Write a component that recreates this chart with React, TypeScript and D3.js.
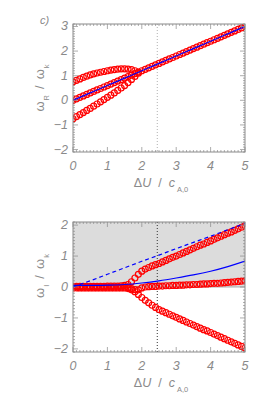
import React from 'react';
import * as d3 from 'd3';

// ΔU / c_A,0 sampling grid
const du = [0, 0.1, 0.2, 0.3, 0.4, 0.5, 0.6, 0.7, 0.8, 0.9, 1.0, 1.1, 1.2, 1.3, 1.4, 1.5, 1.6, 1.7, 1.8, 1.9,
  2.0, 2.1, 2.2, 2.3, 2.4, 2.5, 2.6, 2.7, 2.8, 2.9, 3.0, 3.1, 3.2, 3.3, 3.4, 3.5, 3.6, 3.7, 3.8, 3.9,
  4.0, 4.1, 4.2, 4.3, 4.4, 4.5, 4.6, 4.7, 4.8, 4.9, 5.0];

// top panel: real part
const wrMid = [0, 0.06, 0.12, 0.18, 0.24, 0.30, 0.36, 0.42, 0.48, 0.54, 0.60, 0.66, 0.72, 0.78, 0.84, 0.90, 0.96, 1.02, 1.08, 1.14,
  1.20, 1.26, 1.32, 1.38, 1.44, 1.50, 1.56, 1.62, 1.68, 1.74, 1.80, 1.86, 1.92, 1.98, 2.04, 2.10, 2.16, 2.22, 2.28, 2.34,
  2.40, 2.46, 2.52, 2.58, 2.64, 2.70, 2.76, 2.82, 2.88, 2.94, 3.00];
const wrUp = [0.75, 0.81, 0.87, 0.93, 0.98, 1.03, 1.07, 1.11, 1.14, 1.17, 1.20, 1.23, 1.25, 1.27, 1.28, 1.28, 1.27, 1.25, 1.20, 1.15];
const wrLow = [-0.75, -0.66, -0.58, -0.50, -0.41, -0.33, -0.24, -0.15, -0.06, 0.03, 0.12, 0.21, 0.30, 0.40, 0.50, 0.60, 0.72, 0.85, 0.97, 1.10];

// bottom panel: imaginary part
const wiUp = [0.02, 0.02, 0.02, 0.02, 0.02, 0.02, 0.02, 0.02, 0.02, 0.02, 0.03, 0.03, 0.03, 0.03, 0.04, 0.05, 0.08, 0.17, 0.29, 0.41,
  0.51, 0.58, 0.63, 0.68, 0.72, 0.76, 0.81, 0.86, 0.91, 0.96, 1.00, 1.05, 1.10, 1.15, 1.20, 1.25, 1.30, 1.35, 1.39, 1.44,
  1.49, 1.54, 1.59, 1.64, 1.69, 1.74, 1.78, 1.83, 1.88, 1.93, 1.98];
const wiMid = [0, 0, 0, 0, 0, 0, 0, 0, 0, 0, 0, 0, 0, 0, 0, 0, -0.02, -0.05, -0.08, -0.09,
  -0.03, 0, 0.01, 0.02, 0.02, 0.03, 0.03, 0.04, 0.04, 0.05, 0.05, 0.06, 0.06, 0.07, 0.07, 0.08, 0.08, 0.09, 0.10, 0.10,
  0.11, 0.12, 0.12, 0.13, 0.14, 0.15, 0.16, 0.17, 0.18, 0.19, 0.20];
const wiLow = [-0.03, -0.03, -0.03, -0.03, -0.03, -0.03, -0.03, -0.03, -0.03, -0.03, -0.03, -0.03, -0.03, -0.03, -0.03, -0.03, -0.05, -0.09, -0.15, -0.24,
  -0.34, -0.43, -0.51, -0.59, -0.66, -0.73, -0.78, -0.83, -0.88, -0.93, -0.98, -1.03, -1.08, -1.13, -1.18, -1.23, -1.28, -1.33, -1.38, -1.42,
  -1.47, -1.52, -1.57, -1.62, -1.67, -1.72, -1.77, -1.82, -1.87, -1.92, -1.97];

// blue curves (bottom)
const duCoarse = [0, 0.5, 1, 1.5, 2, 2.5, 3, 3.5, 4, 4.5, 5];
const wiBlueSolid = [0.05, 0.05, 0.06, 0.08, 0.13, 0.20, 0.29, 0.39, 0.51, 0.66, 0.84];
const wiBlueDash = [0, 0.20, 0.41, 0.62, 0.83, 1.03, 1.24, 1.44, 1.64, 1.85, 2.05];

const xTicks = [0, 1, 2, 3, 4, 5];
const yTicksTop = [-2, -1, 0, 1, 2, 3];
const yTicksBot = [-2, -1, 0, 1, 2];
const markerLine = 2.45;

const GRAY = '#8a8a8a';
const FONT = "'Liberation Sans', Arial, sans-serif";

type PanelProps = {
  id: string;
  top: number;
  bottom: number;
  yDomain: [number, number];
  yTicks: number[];
  shade?: boolean;
  dotColor: string;
  sub: string;
  titleY: number;
  children: (x: d3.ScaleLinear<number, number>, y: d3.ScaleLinear<number, number>) => React.ReactNode;
};

const Panel = ({ id, top, bottom, yDomain, yTicks, shade, dotColor, sub, titleY, children }: PanelProps) => {
  const left = 73, right = 245;
  const x = d3.scaleLinear().domain([0, 5]).range([left, right]);
  const y = d3.scaleLinear().domain(yDomain).range([bottom, top]);

  const xMinor = d3.range(0, 50.5, 1).map((i) => i / 10);
  const yMinor = d3.range(Math.ceil(yDomain[0] * 10), Math.floor(yDomain[1] * 10) + 1).map((i) => i / 10);

  return (
    <g>
      <defs>
        <clipPath id={id}>
          <rect x={left} y={top} width={right - left} height={bottom - top} />
        </clipPath>
      </defs>
      {shade && (
        <rect x={left} y={top} width={right - left} height={y(0) - top} fill="#dcdcdc" />
      )}
      {shade && <line x1={left} x2={right} y1={y(0)} y2={y(0)} stroke="#999" strokeWidth={0.8} />}

      <line x1={x(markerLine)} x2={x(markerLine)} y1={top} y2={bottom} stroke={dotColor} strokeWidth={1} strokeDasharray="1,2" />

      <g clipPath={`url(#${id})`}>{children(x, y)}</g>

      {/* frame and ticks */}
      <rect x={left} y={top} width={right - left} height={bottom - top} fill="none" stroke={GRAY} strokeWidth={1} />
      {xMinor.map((v, i) => {
        const len = i % 10 === 0 ? 5 : 2;
        return (
          <g key={'xm' + i} stroke={GRAY} strokeWidth={0.7}>
            <line x1={x(v)} x2={x(v)} y1={bottom} y2={bottom - len} />
            <line x1={x(v)} x2={x(v)} y1={top} y2={top + len} />
          </g>
        );
      })}
      {yMinor.map((v, i) => {
        const len = Math.abs(v - Math.round(v)) < 1e-6 ? 5 : 2;
        return (
          <g key={'ym' + i} stroke={GRAY} strokeWidth={0.7}>
            <line x1={left} x2={left + len} y1={y(v)} y2={y(v)} />
            <line x1={right} x2={right - len} y1={y(v)} y2={y(v)} />
          </g>
        );
      })}

      {xTicks.map((v) => (
        <text key={'xl' + v} x={x(v)} y={bottom + 18} textAnchor="middle" fontSize={12.5} fontStyle="italic" fill={GRAY} fontFamily={FONT}>
          {v}
        </text>
      ))}
      {yTicks.map((v) => (
        <text key={'yl' + v} x={left - 5} y={y(v) + 4} textAnchor="end" fontSize={12.5} fontStyle="italic" fill={GRAY} fontFamily={FONT}>
          {v < 0 ? '\u2212' + Math.abs(v) : v}
        </text>
      ))}

      {/* x title */}
      <text x={161} y={bottom + 35} textAnchor="middle" fontSize={12.5} fill={GRAY} fontFamily={FONT}>
        <tspan>Δ</tspan>
        <tspan fontStyle="italic">U</tspan>
        <tspan dx={7}>/</tspan>
        <tspan dx={7} fontStyle="italic">c</tspan>
        <tspan fontSize={7.5} dy={5} dx={2}>A,0</tspan>
      </text>

      {/* y title */}
      <text transform={`translate(44,${titleY}) rotate(-90)`} textAnchor="middle" fontSize={13} fill={GRAY} fontFamily={FONT}>
        <tspan>ω</tspan>
        <tspan fontSize={7.5} dy={5} dx={1}>{sub}</tspan>
        <tspan dy={-5} dx={6}>/</tspan>
        <tspan dx={6}>ω</tspan>
        <tspan fontSize={7.5} dy={5} dx={1}>k</tspan>
      </text>
    </g>
  );
};

const Circles = ({ xs, ys, x, y }: { xs: number[]; ys: number[]; x: any; y: any }) => (
  <g fill="none" stroke="#ff0000" strokeWidth={1.2}>
    {ys.map((v, i) => (
      <circle key={i} cx={x(xs[i])} cy={y(v)} r={3} />
    ))}
  </g>
);

export default function App() {
  return (
    <svg width={266} height={399} style={{ position: 'absolute', left: 0, top: 0, background: '#fff' }}>
      <text x={40} y={24} fontSize={11} fontStyle="italic" fill={GRAY} fontFamily={FONT}>c)</text>

      <Panel id="clipTop" top={24} bottom={152} yDomain={[-2.1, 3.1]} yTicks={yTicksTop} dotColor="#b0b0b0" sub="R" titleY={88}>
        {(x, y) => {
          const line = d3.line<number>().x((_, i) => x(du[i])).y((d) => y(d));
          return (
            <g>
              <Circles xs={du} ys={wrUp} x={x} y={y} />
              <Circles xs={du} ys={wrLow} x={x} y={y} />
              <Circles xs={du} ys={wrMid} x={x} y={y} />
              <path d={line(wrMid) || ''} fill="none" stroke="#0000ff" strokeWidth={1.2} />
            </g>
          );
        }}
      </Panel>

      <Panel id="clipBot" top={222} bottom={352} yDomain={[-2.1, 2.1]} yTicks={yTicksBot} shade dotColor="#333" sub="I" titleY={276}>
        {(x, y) => {
          const line = d3.line<number>().x((_, i) => x(duCoarse[i])).y((d) => y(d)).curve(d3.curveMonotoneX);
          return (
            <g>
              <Circles xs={du} ys={wiLow} x={x} y={y} />
              <Circles xs={du} ys={wiMid} x={x} y={y} />
              <Circles xs={du} ys={wiUp} x={x} y={y} />
              <path d={line(wiBlueSolid) || ''} fill="none" stroke="#0000ff" strokeWidth={1.2} />
              <path d={line(wiBlueDash) || ''} fill="none" stroke="#0000ff" strokeWidth={1.2} strokeDasharray="4,3" />
            </g>
          );
        }}
      </Panel>
    </svg>
  );
}
